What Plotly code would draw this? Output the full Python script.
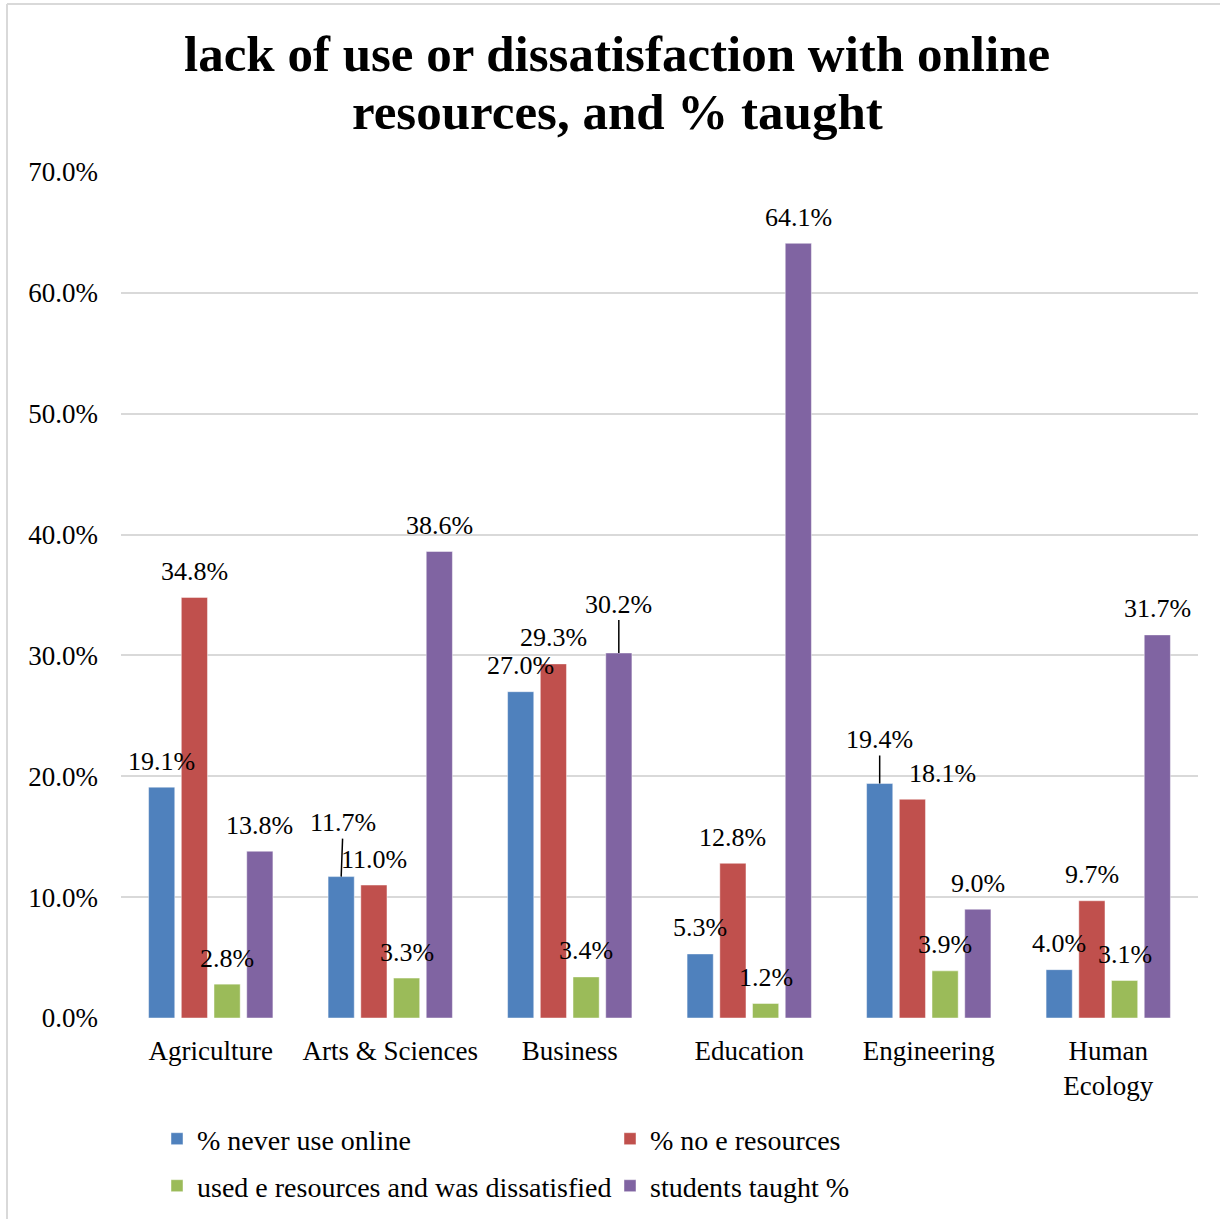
import plotly.graph_objects as go

# Survey results by college (percent)
colleges = ["Agriculture", "Arts & Sciences", "Business", "Education", "Engineering", "Human<br>Ecology"]
never_use_online = [19.1, 11.7, 27.0, 5.3, 19.4, 4.0]
no_e_resources = [34.8, 11.0, 29.3, 12.8, 18.1, 9.7]
used_dissatisfied = [2.8, 3.3, 3.4, 1.2, 3.9, 3.1]
students_taught = [13.8, 38.6, 30.2, 64.1, 9.0, 31.7]

series_names = ["% never use online", "% no e resources",
                "used e resources and was dissatisfied", "students taught %"]
series_values = [never_use_online, no_e_resources, used_dissatisfied, students_taught]
series_colors = ["#4F81BD", "#C0504D", "#9BBB59", "#8064A2"]

y_ticks = [0, 10, 20, 30, 40, 50, 60, 70]

title_lines = ["lack of use or dissatisfaction with online", "resources, and % taught"]

FONT = "Liberation Serif"
BARGAP = 0.271
SLOT = (1 - BARGAP) / len(series_values)

# plot-area geometry in pixels (used to place items outside the plot area)
W, H = 1220, 1219
ML, MR, MT, MB = 121, 22, 172, 201
PW, PH = W - ML - MR, H - MT - MB


def px_x(px):
    return (px - ML) / PW


def px_y(py):
    return (H - MB - py) / PH


legend_keys = ["legend", "legend2", "legend3", "legend4"]

fig = go.Figure()
for name, vals, color, lg in zip(series_names, series_values, series_colors, legend_keys):
    fig.add_trace(go.Bar(
        x=colleges, y=vals, name=name, legend=lg,
        marker=dict(color=color, line=dict(color="rgba(255,255,255,0.45)", width=1)),
        hoverinfo="skip",
    ))

# data labels; a few are lifted with a leader line or nudged sideways
leaders = {(0, 1): (2, -54), (3, 2): (0, -49), (0, 4): (0, -44)}
nudges = {(1, 4): 30}
annotations = []
for s, vals in enumerate(series_values):
    for c, v in enumerate(vals):
        xpos = c + (s - 1.5) * SLOT
        label = f"{v:.1f}%"
        if (s, c) in leaders:
            ax, ay = leaders[(s, c)]
            annotations.append(dict(
                x=xpos, y=v, xref="x", yref="y", text=label, showarrow=True,
                ax=ax, ay=ay, arrowhead=0, arrowwidth=1.5, arrowcolor="#000000",
                standoff=0, startstandoff=0,
                font=dict(family=FONT, size=26, color="#000000"),
            ))
        else:
            annotations.append(dict(
                x=xpos, y=v, xref="x", yref="y", text=label, showarrow=False,
                yanchor="middle", xanchor="center", yshift=26,
                xshift=nudges.get((s, c), 0),
                font=dict(family=FONT, size=26, color="#000000"),
            ))

# two-line title
for line, cy in zip(title_lines, [54, 112]):
    annotations.append(dict(
        x=px_x(617), y=px_y(cy), xref="paper", yref="paper", text=f"<b>{line}</b>",
        showarrow=False, xanchor="center", yanchor="middle",
        font=dict(family=FONT, size=51, color="#000000"),
    ))

# chart frame (left and top edges)
shapes = [
    dict(type="line", xref="paper", yref="paper", x0=px_x(7), x1=px_x(7),
         y0=px_y(H), y1=px_y(4), line=dict(color="#d9d9d9", width=2)),
    dict(type="line", xref="paper", yref="paper", x0=px_x(7), x1=px_x(W),
         y0=px_y(4), y1=px_y(4), line=dict(color="#d9d9d9", width=2)),
]

legend_pos = [(157, 1139), (610, 1139), (157, 1186), (610, 1186)]
legend_font = dict(family=FONT, size=28, color="#000000")
legend_layout = {}
for lg, (lx, ly) in zip(legend_keys, legend_pos):
    legend_layout[lg] = dict(
        x=px_x(lx), y=px_y(ly), xanchor="left", yanchor="middle",
        orientation="h", font=legend_font, bgcolor="rgba(0,0,0,0)",
        itemwidth=30, itemclick=False, itemdoubleclick=False,
    )

fig.update_layout(
    width=W, height=H, autosize=False,
    margin=dict(l=ML, r=MR, t=MT, b=MB, pad=0, autoexpand=False),
    paper_bgcolor="white", plot_bgcolor="white",
    barmode="group", bargap=BARGAP, bargroupgap=0.2,
    showlegend=True,
    annotations=annotations, shapes=shapes,
    font=dict(family=FONT, color="#000000"),
    xaxis=dict(
        showgrid=False, showline=False, zeroline=False, ticks="",
        tickfont=dict(family=FONT, size=27, color="#000000"),
        ticklabelstandoff=14, automargin=False,
    ),
    yaxis=dict(
        range=[0, 70], tickvals=y_ticks, ticktext=[f"{v:.1f}%" for v in y_ticks],
        showgrid=True, gridcolor="#d9d9d9", gridwidth=1.5,
        zeroline=False, showline=False, ticks="",
        tickfont=dict(family=FONT, size=27, color="#000000"),
        ticklabelstandoff=22, automargin=False,
    ),
    **legend_layout,
)

fig.write_html("out.html")
